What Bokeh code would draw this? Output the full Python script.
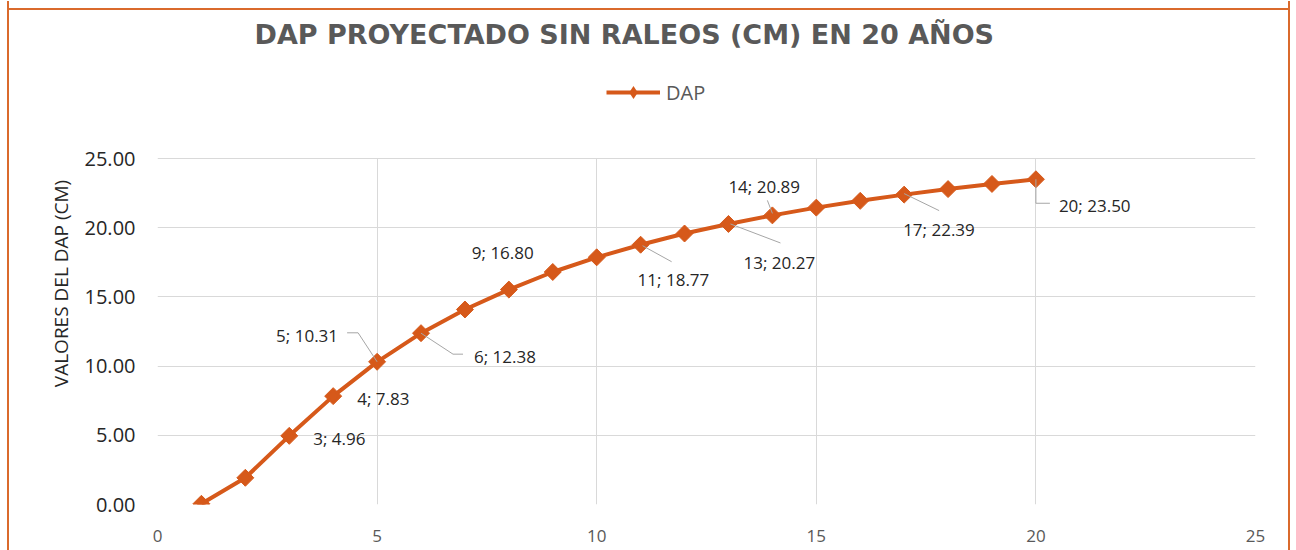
from bokeh.plotting import figure
from bokeh.models import (FixedTicker, PrintfTickFormatter, Legend, LegendItem,
                          ColumnDataSource, Range1d)
from bokeh.core.properties import value
from bokeh.embed import file_html
from bokeh.resources import INLINE

# ---------------- data ----------------
years = [1, 2, 3, 4, 5, 6, 7, 8, 9, 10, 11, 12, 13, 14, 15, 16, 17, 18, 19, 20]
dap = [0.05, 1.93, 4.96, 7.83, 10.31, 12.38, 14.09, 15.53, 16.80, 17.86,
       18.77, 19.58, 20.27, 20.89, 21.45, 21.94, 22.39, 22.79, 23.16, 23.50]
x_ticks = [0, 5, 10, 15, 20, 25]
y_ticks = [0, 5, 10, 15, 20, 25]
labeled_years = [3, 4, 5, 6, 9, 11, 13, 14, 17, 20]

title_text = "DAP PROYECTADO SIN RALEOS (CM) EN 20 AÑOS"
y_label = "VALORES DEL DAP (CM)"
series_name = "DAP"

# ---------------- style / layout ----------------
W, H = 1283, 549
ML, MR, MT, MB = 148, 37, 61, 46
PLOT_H = 346            # pixel height of the 0..25 value band
X_MAX, Y_MAX = 25, 25
ORANGE = "#D6591A"
BORDER = "#DA6A2C"
GRID = "#D9D9D9"
FONT = "Open Sans"

# label placement (pixel offsets from each labelled point: left edge, vertical middle)
label_dx = {3: 24, 4: 24, 5: -101, 6: 53, 9: -81, 11: -3, 13: 15, 14: -44, 17: -1, 20: 23}
label_dy = {3: 3, 4: 2, 5: -26, 6: 23, 9: -19, 11: 35, 13: 39, 14: -29, 17: 35, 20: 26}
# leader line paths (pixel offsets from point)
leaders = {
    5: [(-30, -29), (-19, -29), (0, 0)],
    6: [(0, 0), (32, 21), (42, 21)],
    11: [(2, 1), (31, 17)],
    13: [(2, 0), (52, 19)],
    14: [(-5, -15), (0, -2)],
    17: [(0, -1), (35, 16)],
    20: [(0, 0), (0, 24), (14, 24)],
}

frame_w = W - ML - MR
frame_h = H - MT - MB
px_x = frame_w / X_MAX
px_y = PLOT_H / Y_MAX
Y_TOP = frame_h / px_y

p = figure(width=W, height=H, x_range=Range1d(0, X_MAX), y_range=Range1d(0, Y_TOP),
           output_backend="svg", toolbar_location=None,
           min_border_left=ML, min_border_right=MR, min_border_top=MT, min_border_bottom=MB,
           styles={"margin-left": "7px", "margin-top": "1px",
                   "border-left": f"2px solid {BORDER}",
                   "border-right": f"2px solid {BORDER}",
                   "background": f"linear-gradient({BORDER}, {BORDER}) 0 7px / 100% 2px no-repeat, white"})

p.title.text = title_text
p.title.text_font = "DejaVu Sans"
p.title.text_font_size = "27px"
p.title.text_font_style = "bold"
p.title.text_color = "#595959"
p.title.align = "left"
p.title.offset = 97
p.title.standoff = 25

p.outline_line_color = None
p.background_fill_color = "white"
p.border_fill_color = None

# axes
p.xaxis.ticker = FixedTicker(ticks=x_ticks)
p.yaxis.ticker = FixedTicker(ticks=y_ticks)
p.yaxis.bounds = (0, Y_MAX)
p.yaxis.formatter = PrintfTickFormatter(format="%.2f")
for ax in (p.xaxis, p.yaxis):
    ax.axis_line_color = None
    ax.major_tick_line_color = None
    ax.minor_tick_line_color = None
    ax.major_label_text_font = FONT
p.xaxis.major_label_text_font_size = "17px"
p.xaxis.major_label_text_color = "#595959"
p.xaxis.major_label_standoff = 19
p.yaxis.major_label_text_font_size = "20px"
p.yaxis.major_label_text_color = "#262626"
p.yaxis.major_label_standoff = 16
p.yaxis.axis_label = y_label
p.yaxis.axis_label_text_font = FONT
p.yaxis.axis_label_text_font_size = "19px"
p.yaxis.axis_label_text_font_style = "normal"
p.yaxis.axis_label_text_color = "#262626"
p.yaxis.axis_label_standoff = 8

p.xgrid.ticker = FixedTicker(ticks=x_ticks)
p.ygrid.ticker = FixedTicker(ticks=y_ticks)
p.xgrid.cross_bounds = (0, Y_MAX)
p.grid.grid_line_color = GRID
p.grid.grid_line_width = 1

src = ColumnDataSource(dict(x=years, y=dap))
line_r = p.line("x", "y", source=src, line_color=ORANGE, line_width=4)
mark_r = p.scatter("x", "y", source=src, marker="square", angle=0.785398, size=12,
                   fill_color=ORANGE, line_color=ORANGE)
# upright diamond core (hidden inside the markers) that gives the legend its diamond swatch
legend_mark = p.scatter("x", "y", source=src, marker="diamond", size=14,
                        fill_color=ORANGE, line_color=None)

# leader lines
lx, ly = [], []
for yr, path in leaders.items():
    v = dap[years.index(yr)]
    lx.append([yr + dx / px_x for dx, dy in path])
    ly.append([v - dy / px_y for dx, dy in path])
p.multi_line(lx, ly, line_color="#A6A6A6", line_width=1)

# data labels
lab = dict(x=[], y=[], t=[], dx=[], dy=[])
for yr in labeled_years:
    v = dap[years.index(yr)]
    lab["x"].append(yr)
    lab["y"].append(v)
    lab["t"].append(f"{yr}; {v:.2f}")
    lab["dx"].append(label_dx[yr])
    lab["dy"].append(label_dy[yr])
p.text("x", "y", text="t", x_offset="dx", y_offset="dy", source=ColumnDataSource(lab),
       text_font=value(FONT), text_font_size="17px", text_color="#262626",
       text_align="left", text_baseline="middle")

legend = Legend(items=[LegendItem(label=series_name, renderers=[line_r, legend_mark])],
                location=(449, 396), orientation="horizontal",
                glyph_width=54, glyph_height=32, label_standoff=6,
                label_text_font=FONT, label_text_font_size="20px", label_text_color="#595959",
                border_line_color=None, background_fill_alpha=0, padding=0, margin=0, spacing=0)
p.add_layout(legend, "center")

open("out.html", "w").write(file_html(p, INLINE))
